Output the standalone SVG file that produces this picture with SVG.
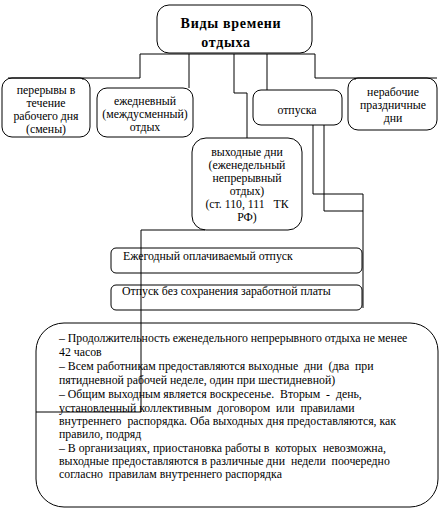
<svg xmlns="http://www.w3.org/2000/svg" width="445" height="511" viewBox="0 0 445 511">
<style>
.b{fill:#fff;stroke:#000;stroke-width:1}
.c{fill:none;stroke:#000;stroke-width:1}
text{font-family:"Liberation Serif","Times New Roman","DejaVu Serif",serif;font-size:11.8px;fill:#000}
.m{text-anchor:middle}
.t{font-size:14px;font-weight:bold;letter-spacing:0.7px}
</style>
<rect width="445" height="511" fill="#fff"/>
<g id="n-top"><rect class="b" x="157" y="5" width="155" height="48" rx="12"/>
<text class="m t" x="231" y="28">Виды времени</text>
<text class="m t" x="226" y="47">отдыха</text></g>
<g id="n-breaks"><rect class="b" x="2" y="78" width="88" height="59" rx="10"/>
<text class="m" x="46" y="94">перерывы в</text>
<text class="m" x="46" y="107">течение</text>
<text class="m" x="46" y="120">рабочего дня</text>
<text class="m" x="46" y="133">(смены)</text></g>
<g id="n-daily"><rect class="b" x="97" y="88" width="96" height="49" rx="10"/>
<text class="m" x="145" y="105">ежедневный</text>
<text class="m" x="145" y="118">(междусменный)</text>
<text class="m" x="145" y="131">отдых</text></g>
<g id="n-leave"><rect class="b" x="253" y="90" width="89" height="35" rx="8"/>
<text class="m" x="297" y="114">отпуска</text></g>
<g id="n-holidays"><rect class="b" x="348" y="78" width="89" height="52" rx="10"/>
<text class="m" x="393" y="96">нерабочие</text>
<text class="m" x="393" y="109">праздничные</text>
<text class="m" x="393" y="122">дни</text></g>
<g id="n-weekend"><rect class="b" x="192" y="138" width="110" height="92" rx="14"/>
<text class="m" x="247" y="156">выходные дни</text>
<text class="m" x="247" y="169">(еженедельный</text>
<text class="m" x="247" y="182">непрерывный</text>
<text class="m" x="247" y="195">отдых)</text>
<text class="m" x="247" y="208" xml:space="preserve">(ст. 110, 111   ТК</text>
<text class="m" x="247" y="221">РФ)</text></g>
<g id="n-annual"><rect class="b" x="111" y="248" width="251" height="25" rx="5"/>
<text x="123" y="260">Ежегодный оплачиваемый отпуск</text></g>
<g id="n-unpaid"><rect class="b" x="111" y="285" width="251" height="25" rx="5"/>
<text x="122" y="295">Отпуск без сохранения заработной платы</text></g>
<g id="n-notes"><rect class="b" x="36" y="323" width="402" height="184" rx="28"/>
<text x="59" y="342">– Продолжительность еженедельного непрерывного отдыха не менее</text>
<text x="59" y="356">42 часов</text>
<text x="59" y="370" xml:space="preserve">– Всем работникам предоставляются выходные  дни  (два  при</text>
<text x="59" y="384">пятидневной рабочей неделе, один при шестидневной)</text>
<text x="59" y="398" xml:space="preserve">– Общим выходным является воскресенье.  Вторым  -  день,</text>
<text x="59" y="412" xml:space="preserve">установленный коллективным  договором  или  правилами</text>
<text x="59" y="425" xml:space="preserve">внутреннего  распорядка. Оба выходных дня предоставляются, как</text>
<text x="59" y="438">правило, подряд</text>
<text x="59" y="452" xml:space="preserve">– В организациях, приостановка работы в  которых  невозможна,</text>
<text x="59" y="465" xml:space="preserve">выходные предоставляются в различные дни  недели  поочередно</text>
<text x="59" y="478" xml:space="preserve">согласно  правилам внутреннего распорядка</text></g>
<g id="connectors" class="c">
<path class="c" d="M140,54 H315"/>
<path class="c" d="M140,54 V78 H8"/>
<path class="c" d="M83,78 V80"/>
<path class="c" d="M315,54 V78 H437"/>
<path class="c" d="M355,78 V80"/>
<path class="c" d="M189,54 V88"/>
<path class="c" d="M234,54 V93 H247 V138"/>
<path class="c" d="M267,54 V90"/>
<path class="c" d="M313,125 V194 H363"/>
<path class="c" d="M324,125 V211 H363"/>
<path class="c" d="M363,194 V308"/>
<path class="c" d="M205,230 H141 V412 H36"/>
</g>
</svg>
